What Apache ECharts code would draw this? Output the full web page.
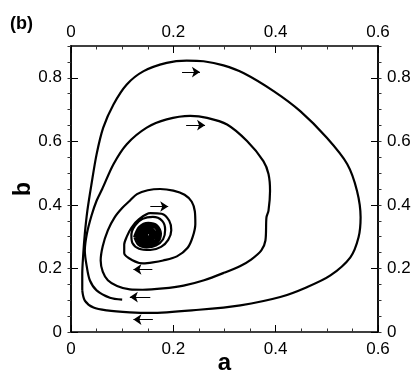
<!DOCTYPE html>
<html>
<head>
<meta charset="utf-8">
<script src="https://cdn.jsdelivr.net/npm/echarts@6/dist/echarts.min.js"></script>
<style>
  html, body { margin: 0; padding: 0; background: #fff; }
  #chart { width: 420px; height: 373px; }
</style>
</head>
<body>
<div id="chart"></div>
<script>
// tick labels
const xTicks = [0, 0.2, 0.4, 0.6]
const yTicks = [0, 0.2, 0.4, 0.6, 0.8]

// outer closed loop (clockwise)
const outerLoop = [
  [0.022, 0.131], [0.022, 0.183], [0.024, 0.246], [0.027, 0.309], [0.032, 0.382],
  [0.040, 0.465], [0.050, 0.559], [0.063, 0.643], [0.083, 0.716], [0.109, 0.779],
  [0.142, 0.821], [0.187, 0.847], [0.226, 0.854], [0.259, 0.852], [0.298, 0.839],
  [0.337, 0.815], [0.396, 0.758], [0.448, 0.695], [0.500, 0.611], [0.540, 0.528],
  [0.559, 0.444], [0.566, 0.361], [0.562, 0.298], [0.546, 0.235], [0.507, 0.178],
  [0.461, 0.141], [0.409, 0.110], [0.331, 0.084], [0.250, 0.070], [0.155, 0.060],
  [0.115, 0.062], [0.070, 0.068], [0.044, 0.077], [0.027, 0.099], [0.022, 0.131]
]

// spiral from (0.1, 0.1) into the focus
const spiralStart = [
  [0.100, 0.102], [0.076, 0.108], [0.050, 0.131], [0.037, 0.162], [0.031, 0.204],
  [0.027, 0.256], [0.031, 0.309], [0.040, 0.366], [0.050, 0.413], [0.061, 0.450]
]
const secondLoop = [
  [0.083, 0.528], [0.109, 0.591], [0.148, 0.643], [0.187, 0.669], [0.233, 0.680],
  [0.266, 0.674], [0.305, 0.653], [0.344, 0.601], [0.376, 0.538], [0.386, 0.497],
  [0.389, 0.444], [0.386, 0.382], [0.382, 0.361], [0.380, 0.288], [0.372, 0.257],
  [0.352, 0.228], [0.331, 0.208], [0.300, 0.187], [0.260, 0.163], [0.220, 0.146],
  [0.180, 0.137], [0.140, 0.133], [0.115, 0.134], [0.090, 0.145], [0.072, 0.163],
  [0.062, 0.190], [0.058, 0.225], [0.062, 0.270], [0.072, 0.320], [0.085, 0.360],
  [0.100, 0.390]
]
const thirdLoop = [
  [0.115, 0.413], [0.129, 0.434], [0.150, 0.446], [0.174, 0.450], [0.200, 0.445],
  [0.222, 0.432], [0.236, 0.410], [0.242, 0.380], [0.243, 0.340], [0.238, 0.300],
  [0.228, 0.265], [0.207, 0.238], [0.180, 0.225], [0.160, 0.219], [0.141, 0.216],
  [0.120, 0.226], [0.104, 0.248]
]
const fourthLoop = [
  [0.104, 0.275], [0.109, 0.300], [0.118, 0.328], [0.133, 0.355], [0.155, 0.374],
  [0.177, 0.372], [0.192, 0.350], [0.196, 0.320], [0.190, 0.290], [0.176, 0.268],
  [0.155, 0.258], [0.133, 0.262], [0.120, 0.280]
]
const fifthLoop = [
  [0.118, 0.305], [0.125, 0.335], [0.140, 0.356], [0.160, 0.362], [0.178, 0.350],
  [0.184, 0.322], [0.180, 0.292], [0.166, 0.272], [0.148, 0.266], [0.132, 0.274],
  [0.124, 0.298]
]
// dense core near the focus
const coreLoops = [
  [0.124, 0.298], [0.134, 0.330], [0.151, 0.342], [0.168, 0.334], [0.175, 0.310],
  [0.169, 0.283], [0.151, 0.272], [0.134, 0.280], [0.128, 0.305],
  [0.139, 0.326], [0.153, 0.335], [0.166, 0.327], [0.170, 0.306], [0.165, 0.287],
  [0.150, 0.279], [0.137, 0.287], [0.133, 0.305],
  [0.143, 0.321], [0.152, 0.327], [0.161, 0.321], [0.165, 0.306], [0.160, 0.292],
  [0.150, 0.286], [0.141, 0.293], [0.138, 0.306],
  [0.146, 0.316], [0.152, 0.320], [0.158, 0.315], [0.160, 0.305], [0.157, 0.296],
  [0.150, 0.292], [0.144, 0.297], [0.143, 0.306],
  [0.148, 0.311], [0.152, 0.313], [0.155, 0.309], [0.155, 0.303], [0.151, 0.299],
  [0.147, 0.302], [0.148, 0.307], [0.151, 0.307]
]

// arrows: [fromA, toA, b]
const arrows = [
  [0.217, 0.252, 0.818],
  [0.225, 0.262, 0.651],
  [0.155, 0.190, 0.395],
  [0.159, 0.122, 0.197],
  [0.155, 0.115, 0.110],
  [0.160, 0.122, 0.039]
]

const spiral = [].concat(spiralStart, secondLoop, thirdLoop, fourthLoop, fifthLoop)

const chart = echarts.init(document.getElementById('chart'), null, { renderer: 'canvas' })

const font = 'Liberation Sans, Arial, sans-serif'
const labelStyle = { color: '#000', fontSize: 17, fontFamily: font }
const fmt = v => (xTicks.includes(v) || yTicks.includes(v)) ? String(v) : ''

const majorX = (pos) => ({
  type: 'value', position: pos, min: 0, max: 0.6, interval: 0.2,
  axisLine: { show: true, onZero: false, lineStyle: { color: '#000', width: 1.5 } },
  axisTick: { show: true, inside: true, length: 7, lineStyle: { color: '#000', width: 1 } },
  minorTick: { show: true, splitNumber: 4, length: 3.5, lineStyle: { color: '#333', width: 1 } },
  axisLabel: { show: true, margin: pos === 'top' ? 5 : 9, formatter: fmt, ...labelStyle },
  splitLine: { show: false }
})

const majorY = (pos) => ({
  type: 'value', position: pos, offset: 0, min: 0, max: 0.9, interval: 0.2,
  axisLine: { show: true, onZero: false, lineStyle: { color: '#000', width: 1.5 } },
  axisTick: { show: true, inside: true, length: 7, lineStyle: { color: '#000', width: 1 } },
  axisLabel: { show: true, margin: 9, showMaxLabel: false, formatter: fmt, ...labelStyle },
  splitLine: { show: false }
})

// extra axes only for the 0.05 minor ticks (they come out flipped, hence inside: false)
const minorY = (pos) => ({
  type: 'value', position: pos, offset: 0, min: 0, max: 0.9, interval: 0.05,
  axisLine: { show: true, onZero: false, lineStyle: { color: '#000', width: 1.5 } },
  axisTick: { show: true, inside: false, length: 3.5, lineStyle: { color: '#333', width: 1 } },
  axisLabel: { show: false },
  splitLine: { show: false }
})

const bottomX = majorX('bottom')
bottomX.name = 'a'
bottomX.nameLocation = 'middle'
bottomX.nameGap = 19
bottomX.nameMoveOverlap = false
bottomX.nameTextStyle = { fontSize: 24, fontWeight: 'bold', color: '#000', fontFamily: font }

const leftY = majorY('left')
leftY.name = 'b'
leftY.nameLocation = 'middle'
leftY.nameGap = 36
leftY.nameMoveOverlap = false
leftY.nameTextStyle = { fontSize: 23, fontWeight: 'bold', color: '#000', fontFamily: font }

const option = {
  animation: false,
  backgroundColor: '#fff',
  grid: { left: 71, right: 42, top: 46, bottom: 41, containLabel: false, outerBoundsMode: 'none' },
  xAxis: [bottomX, majorX('top')],
  yAxis: [leftY, majorY('right'), minorY('left'), minorY('right')],
  graphic: [
    { type: 'text', left: 10, top: 15, style: { text: '(b)', fontSize: 18, fontWeight: 'bold', fill: '#000', fontFamily: font } }
  ],
  series: [
    {
      type: 'line', data: outerLoop, xAxisIndex: 0, yAxisIndex: 0,
      showSymbol: false, smooth: 0.3, silent: true,
      lineStyle: { color: '#000', width: 2.2 }
    },
    {
      type: 'line', data: spiral, xAxisIndex: 0, yAxisIndex: 0,
      showSymbol: false, smooth: 0.3, silent: true,
      lineStyle: { color: '#000', width: 2.2 },
      markLine: {
        silent: true,
        symbol: ['none', 'arrow'],
        symbolSize: 8,
        label: { show: false },
        lineStyle: { color: '#000', width: 1, type: 'solid' },
        data: arrows.map(([a0, a1, b]) => [{ coord: [a0, b] }, { coord: [a1, b] }])
      }
    },
    {
      type: 'line', data: coreLoops, xAxisIndex: 0, yAxisIndex: 0,
      showSymbol: false, smooth: 0.3, silent: true,
      lineStyle: { color: '#000', width: 3 }
    }
  ]
}

chart.setOption(option)
</script>
</body>
</html>
